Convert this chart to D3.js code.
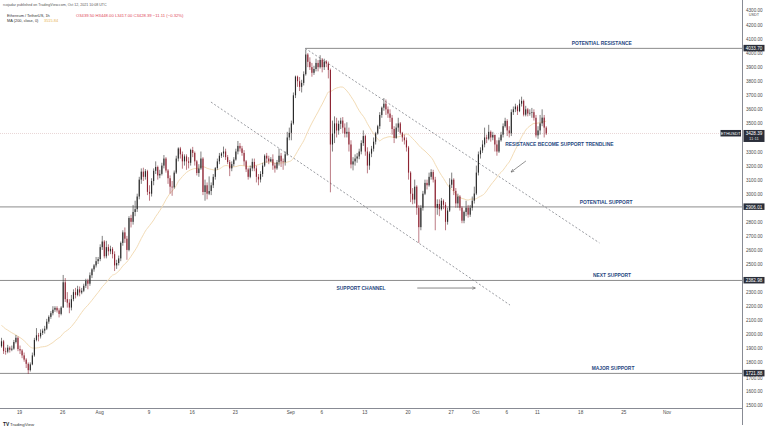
<!DOCTYPE html>
<html><head><meta charset="utf-8">
<script src="https://cdnjs.cloudflare.com/ajax/libs/d3/7.8.5/d3.min.js"></script>
<style>body{margin:0;background:#fff}svg{display:block;font-family:"Liberation Sans",Arial,sans-serif}</style>
</head><body><svg id="c" width="768" height="430"></svg>
<script>
// 8h candles starting 2021-07-08 00:00 UTC (open of each = previous close)
const startTime = Date.UTC(2021, 6, 8, 0);
const firstOpen = 2321;
const closes = [
2250,2170,2115, 2140,2120,2147, 2170,2130,2112, 2110,2125,2140, 2185,2100,2032, 1990,1955,1940, 1900,1975,1995, 2005,1950,1915,
1950,1880,1876, 1905,1890,1898, 1945,1975,1895, 1885,1850,1820, 1790,1745,1786, 1850,1960,1993, 1985,2010,2026, 2040,2090,2124,
2150,2175,2188, 2170,2145,2190, 2370,2250,2225, 2190,2250,2300, 2280,2320,2297, 2310,2345,2380, 2360,2420,2462, 2490,2520,2535,
2620,2660,2555, 2620,2590,2608, 2570,2490,2507, 2540,2650,2725, 2680,2600,2827, 2800,2870,2890, 2980,3100,3157, 3120,3160,3013,
3000,3090,3163, 3190,3130,3141, 3200,3250,3165, 3110,3050,3045, 3150,3250,3322, 3280,3230,3265, 3230,3220,3311, 3290,3230,3147,
3180,3250,3012, 3060,3000,3019, 3060,3120,3182, 3230,3270,3286, 3300,3260,3225, 3180,3210,3243, 3300,3340,3322, 3290,3230,3173,
3120,3180,3226, 3180,3120,3101, 3140,3200,3270, 3250,3230,3245, 3200,3180,3224, 3270,3230,3225, 3280,3400,3433,
3500,3700,3833, 3800,3760,3788, 3850,3990,3938, 3900,3860,3887, 3930,3900,3952, 3900,3940,3925, 3880,3350,3428, 3500,3450,3497,
3520,3470,3427, 3440,3350,3208, 3230,3250,3265, 3300,3360,3410, 3300,3200,3285, 3320,3370,3429, 3480,3560,3612, 3640,3600,3570,
3540,3460,3397, 3470,3500,3433, 3400,3380,3329, 3150,3000,2958, 3050,2900,2762, 2900,3000,3077, 3060,3120,3154, 3100,2900,2927,
2890,2950,2921, 2800,2880,3064, 3100,3020,2931, 2980,2900,2808, 2870,2900,2851, 2900,2950,3001,
3150,3280,3308, 3350,3400,3391, 3440,3400,3418, 3350,3300,3380, 3420,3480,3518, 3450,3430,3580, 3600,3620,3587, 3640,3660,3562,
3600,3570,3575, 3580,3540,3415, 3450,3500,3541, 3470,3428
];
const highs = [
2330,2265,2200, 2165,2190,2170, 2190,2185,2150, 2135,2150,2160, 2215,2195,2110, 2040,2010,1985, 1960,1990,2010, 2033,2020,1965,
1975,1960,1905, 1925,1915,1920, 1960,1995,1985, 1920,1895,1870, 1830,1800,1800, 1870,1975,2044, 2010,2035,2040, 2060,2110,2135,
2165,2200,2200, 2200,2185,2200, 2422,2400,2300, 2250,2280,2320, 2330,2345,2340, 2330,2360,2395, 2395,2440,2470, 2500,2550,2550,
2640,2700,2670, 2665,2640,2630, 2620,2590,2530, 2560,2660,2740, 2760,2700,2840, 2850,2920,2950, 3000,3120,3180, 3185,3175,3170,
3060,3110,3180, 3230,3200,3170, 3220,3275,3260, 3175,3130,3090, 3165,3270,3330, 3333,3300,3280, 3280,3260,3320, 3333,3300,3240,
3210,3300,3260, 3100,3080,3123, 3080,3140,3190, 3250,3290,3295, 3335,3320,3275, 3240,3230,3260, 3320,3375,3360, 3340,3310,3240,
3185,3200,3250, 3250,3200,3140, 3160,3220,3280, 3290,3270,3260, 3280,3220,3240, 3320,3290,3250, 3300,3440,3470,
3520,3720,3840, 3840,3830,3810, 3870,4027,4000, 3970,3930,3910, 3960,3950,3985, 3965,3960,3950, 3940,3890,3520, 3550,3540,3520,
3540,3545,3500, 3508,3470,3380, 3260,3280,3290, 3320,3380,3450, 3420,3330,3300, 3340,3400,3440, 3490,3580,3620, 3680,3670,3620,
3600,3560,3480, 3500,3540,3510, 3440,3420,3400, 3340,3160,3040, 3100,3060,2920, 2920,3020,3100, 3100,3150,3174, 3170,3120,2960,
2960,2970,2960, 2940,2900,3110, 3150,3110,3040, 3000,2990,2910, 2880,2950,2920, 2920,2980,3050,
3200,3300,3330, 3380,3470,3420, 3490,3450,3440, 3420,3380,3400, 3440,3500,3540, 3530,3480,3600, 3620,3640,3630, 3670,3690,3670,
3625,3610,3600, 3610,3600,3560, 3480,3560,3600, 3560,3480
];
const lows = [
2235,2150,2090, 2060,2095,2110, 2130,2110,2080, 2085,2095,2110, 2135,2080,2010, 1950,1930,1910, 1860,1890,1950, 1970,1935,1880,
1905,1860,1855, 1865,1870,1880, 1890,1935,1880, 1860,1830,1805, 1760,1718,1735, 1780,1840,1950, 1950,1970,1995, 2005,2030,2075,
2110,2135,2160, 2155,2120,2135, 2190,2230,2190, 2150,2170,2235, 2255,2270,2270, 2285,2300,2330, 2320,2345,2400, 2445,2475,2500,
2520,2600,2540, 2540,2560,2570, 2540,2450,2465, 2490,2520,2630, 2650,2530,2590, 2760,2780,2840, 2870,2960,3070, 3090,3100,2990,
2950,2980,3060, 3140,3100,3110, 3130,3180,3150, 3070,3000,2985, 3035,3140,3230, 3250,3178,3200, 3170,3180,3200, 3260,3200,3130,
3120,3170,2990, 2950,2960,2990, 2990,3040,3100, 3170,3210,3255, 3260,3240,3210, 3125,3160,3195, 3235,3280,3300, 3270,3200,3154,
3100,3110,3160, 3160,3080,3060, 3080,3120,3190, 3220,3210,3225, 3170,3150,3170, 3200,3190,3170, 3200,3270,3380,
3380,3490,3680, 3760,3730,3720, 3770,3840,3900, 3880,3832,3845, 3870,3870,3890, 3863,3880,3900, 3820,3010,3300, 3360,3400,3420,
3460,3430,3400, 3400,3300,3180, 3166,3200,3220, 3245,3280,3340, 3270,3145,3170, 3260,3300,3350, 3420,3460,3540, 3590,3560,3540,
3510,3420,3360, 3390,3440,3420, 3370,3350,3300, 3100,2940,2925, 2930,2850,2650, 2740,2880,2990, 3030,3050,3100, 3080,2740,2850,
2840,2880,2890, 2740,2780,2870, 3040,2990,2900, 2900,2880,2790, 2790,2840,2830, 2835,2880,2930,
2990,3130,3250, 3290,3330,3360, 3380,3370,3380, 3300,3270,3290, 3370,3400,3470, 3410,3400,3410, 3560,3580,3560, 3580,3620,3550,
3550,3550,3555, 3540,3520,3400, 3390,3420,3480, 3400,3417
];

// axis ticks (labels hidden by price boxes are omitted, as in the reference)
const priceTicks = [1500,1600,1700,1800,1900,2000,2100,2200,2300,2500,2600,2700,2800,3000,3100,3200,3300,3500,3600,3700,3800,3900,4000,4100,4200,4300];
const dateTicks = ["2021-07-19","2021-07-26","2021-08-01","2021-08-09","2021-08-16","2021-08-23","2021-09-01","2021-09-06","2021-09-13","2021-09-20","2021-09-27","2021-10-01","2021-10-06","2021-10-11","2021-10-18","2021-10-25","2021-11-01"];
const dateTickLabels = ["19","26","Aug","9","16","23","Sep","6","13","20","27","Oct","6","11","18","25","Nov"];

// horizontal levels
const levelPrices = [4033.70, 2906.01, 2382.98, 1721.88];
const levelStarts = ["2021-09-03T10:00Z", "2021-07-10T00:00Z", "2021-07-10T00:00Z", "2021-07-10T00:00Z"];
const levelLabels = ["POTENTIAL RESISTANCE", "POTENTIAL SUPPORT", "NEXT SUPPORT", "MAJOR SUPPORT"];
const levelLabelDates = ["2021-10-21T12:00Z", "2021-10-22T05:00Z", "2021-10-23T04:00Z", "2021-10-23T08:00Z"];

// dashed trend lines
const trendStartDates = ["2021-09-03T10:00Z", "2021-08-19T03:00Z"];
const trendStartPrices = [4033.7, 3652];
const trendEndDates = ["2021-10-21T03:00Z", "2021-10-06T15:00Z"];
const trendEndPrices = [2650, 2208];

const lastPrice = 3428.39;
const maPeriod = 25; // 25 x 8h = 200h

const svg = d3.select("#c");
const axisX = 742, axisY = 408;

const x = d3.scaleUtc().domain([new Date("2021-07-19T00:00Z"), new Date("2021-11-01T00:00Z")]).range([19, 666.5]);
const y = d3.scaleLinear().domain([2000, 3000]).range([334.3, 193.7]);

const candles = closes.map((c, i) => ({
  t: startTime + i * 8 * 3600e3, o: i ? closes[i - 1] : firstOpen, h: highs[i], l: lows[i], c
}));
const half = 4 * 3600e3;

const defs = svg.append("defs");
defs.append("clipPath").attr("id", "clip")
  .append("rect").attr("x", 0).attr("y", 0).attr("width", axisX).attr("height", axisY);

const plot = svg.append("g").attr("clip-path", "url(#clip)");

// last price line
plot.append("line").attr("x1", 0).attr("x2", axisX).attr("y1", y(lastPrice)).attr("y2", y(lastPrice))
  .attr("stroke", "#e8d6d6").attr("stroke-width", 1).attr("stroke-dasharray", "1,1");

// levels
levelPrices.forEach((p, i) => {
  plot.append("line").attr("x1", x(new Date(levelStarts[i]))).attr("x2", axisX)
    .attr("y1", y(p)).attr("y2", y(p)).attr("stroke", "#8c8c8c").attr("stroke-width", 1);
});

// MA
const ma = [];
candles.forEach((d, i) => {
  if (i >= maPeriod - 1) ma.push({t: d.t + half, v: d3.mean(closes.slice(i - maPeriod + 1, i + 1))});
});
plot.append("path").datum(ma).attr("fill", "none").attr("stroke", "#f3dcb6").attr("stroke-width", 1)
  .attr("d", d3.line().x(d => x(new Date(d.t))).y(d => y(d.v)).curve(d3.curveMonotoneX));

// trend lines
trendStartDates.forEach((s, i) => {
  plot.append("line").attr("x1", x(new Date(s))).attr("y1", y(trendStartPrices[i]))
    .attr("x2", x(new Date(trendEndDates[i]))).attr("y2", y(trendEndPrices[i]))
    .attr("stroke", "#7e8088").attr("stroke-width", 0.8).attr("stroke-dasharray", "2,2");
});

// candles
const cg = plot.append("g");
const bw = Math.max(0.8, (x(new Date(startTime + 8 * 3600e3)) - x(new Date(startTime))) * 0.55);
candles.forEach(d => {
  const cx = x(new Date(d.t + half));
  const up = d.c >= d.o;
  const col = up ? "#2a2a2a" : "#8e2433";
  cg.append("line").attr("x1", cx).attr("x2", cx)
    .attr("y1", y(Math.max(d.h, d.o, d.c))).attr("y2", y(Math.min(d.l, d.o, d.c)))
    .attr("stroke", col).attr("stroke-width", 0.6);
  const yt = y(Math.max(d.o, d.c)), yb = y(Math.min(d.o, d.c));
  cg.append("rect").attr("x", cx - bw / 2).attr("y", yt).attr("width", bw).attr("height", Math.max(0.6, yb - yt)).attr("fill", col);
});

// axes lines
svg.append("line").attr("x1", axisX + 0.5).attr("x2", axisX + 0.5).attr("y1", 0).attr("y2", 425).attr("stroke", "#6a6d78").attr("stroke-width", 0.8);
svg.append("line").attr("x1", 0).attr("x2", axisX).attr("y1", axisY + 0.5).attr("y2", axisY + 0.5).attr("stroke", "#6a6d78").attr("stroke-width", 0.8);

// right axis
const ya = svg.append("g").attr("transform", `translate(${axisX},0)`)
  .call(d3.axisRight(y).tickValues(priceTicks).tickFormat(d3.format(".2f")).tickSize(0).tickPadding(4));
ya.select(".domain").remove();
ya.selectAll("text").attr("font-size", 4.6).attr("fill", "#4a4a4a");
ya.selectAll(".tick").filter(d => d === 1700).select("text").attr("dy", "0.62em");
ya.selectAll(".tick").filter(d => d === 4300).select("text").attr("dy", "0.1em");
svg.append("text").attr("x", axisX + 12).attr("y", y(4300) + 5.4).attr("font-size", 3.8).attr("fill", "#4a4a4a").attr("text-anchor", "middle").text("USDT");

// bottom axis
const xa = svg.append("g").attr("transform", `translate(0,${axisY})`)
  .call(d3.axisBottom(x).tickValues(dateTicks.map(s => new Date(s + "T00:00Z"))).tickFormat((d, i) => dateTickLabels[i]).tickSize(0).tickPadding(3));
xa.select(".domain").remove();
xa.selectAll("text").attr("font-size", 4.6).attr("fill", "#4a4a4a");

// price boxes
function priceBox(p, sub) {
  const yy = y(p);
  const h = sub ? 12 : 6.5;
  svg.append("rect").attr("x", axisX + 1.5).attr("y", yy - 3.5).attr("width", 21).attr("height", h).attr("fill", "#2a2e39");
  svg.append("text").attr("x", axisX + 12).attr("y", yy + 1.6).attr("text-anchor", "middle").attr("font-size", 4.6).attr("fill", "#fff").text(p.toFixed(2));
  if (sub) svg.append("text").attr("x", axisX + 12).attr("y", yy + 7).attr("text-anchor", "middle").attr("font-size", 4.2).attr("fill", "#ddd").text(sub);
}
levelPrices.forEach(p => priceBox(p));
priceBox(lastPrice, "11:11");
svg.append("rect").attr("x", 720.5).attr("y", y(lastPrice) - 3.5).attr("width", 20.5).attr("height", 6.5).attr("fill", "#2a2e39");
svg.append("text").attr("x", 730.7).attr("y", y(lastPrice) + 1.5).attr("text-anchor", "middle").attr("font-size", 4.2).attr("fill", "#fff").text("ETHUSDT");

// annotation labels
const annColor = "#27477f";
levelLabels.forEach((t, i) => {
  svg.append("text").attr("x", x(new Date(levelLabelDates[i]))).attr("y", y(levelPrices[i]) - 3.2)
    .attr("text-anchor", "middle").attr("font-size", 4.9).attr("font-weight", "bold").attr("fill", annColor).text(t);
});
svg.append("text").attr("x", x(new Date("2021-10-05T20:00Z"))).attr("y", y(3353) + 1.8)
  .attr("font-size", 4.9).attr("font-weight", "bold").attr("fill", annColor).text("RESISTANCE BECOME SUPPORT TRENDLINE");
svg.append("text").attr("x", x(new Date("2021-09-08T12:00Z"))).attr("y", y(2329) + 1.8)
  .attr("font-size", 4.9).attr("font-weight", "bold").attr("fill", annColor).text("SUPPORT CHANNEL");

// arrows
defs.append("marker").attr("id", "ah").attr("viewBox", "0 0 10 10").attr("refX", 9).attr("refY", 5)
  .attr("markerWidth", 5).attr("markerHeight", 5).attr("orient", "auto")
  .append("path").attr("d", "M0,1 L9,5 L0,9").attr("fill", "none").attr("stroke", "#555").attr("stroke-width", 1.4);
svg.append("line").attr("x1", x(new Date("2021-09-21T14:00Z"))).attr("y1", y(2329))
  .attr("x2", x(new Date("2021-10-01T00:00Z"))).attr("y2", y(2329))
  .attr("stroke", "#555").attr("stroke-width", 0.7).attr("marker-end", "url(#ah)");
svg.append("line").attr("x1", x(new Date("2021-10-09T05:00Z"))).attr("y1", y(3233))
  .attr("x2", x(new Date("2021-10-06T19:00Z"))).attr("y2", y(3154))
  .attr("stroke", "#666").attr("stroke-width", 0.7).attr("marker-end", "url(#ah)");

// header
svg.append("text").attr("x", 3).attr("y", 6).attr("font-size", 3.6).attr("fill", "#555").text("rcojadar published on TradingView.com, Oct 12, 2021 10:08 UTC");
svg.append("text").attr("x", 7).attr("y", 16.5).attr("font-size", 3.9).attr("fill", "#333").text("Ethereum / TetherUS, 1h");
svg.append("text").attr("x", 76).attr("y", 16.5).attr("font-size", 4.2).attr("fill", "#e0475a").text("O3439.50 H3448.00 L3417.00 C3428.39 \u221211.11 (\u22120.32%)");
svg.append("text").attr("x", 7).attr("y", 22.3).attr("font-size", 3.9).attr("fill", "#333").text("MA (200, close, 0)");
svg.append("text").attr("x", 44).attr("y", 22.3).attr("font-size", 3.9).attr("fill", "#e8b34f").text(d3.format(".2f")(ma[ma.length - 1].v));

// logo
svg.append("text").attr("x", 3).attr("y", 425.5).attr("font-size", 4.8).attr("font-weight", "bold").attr("fill", "#131722").text("TV");
svg.append("text").attr("x", 10).attr("y", 425.5).attr("font-size", 4.4).attr("fill", "#333").text("TradingView");
</script></body></html>
